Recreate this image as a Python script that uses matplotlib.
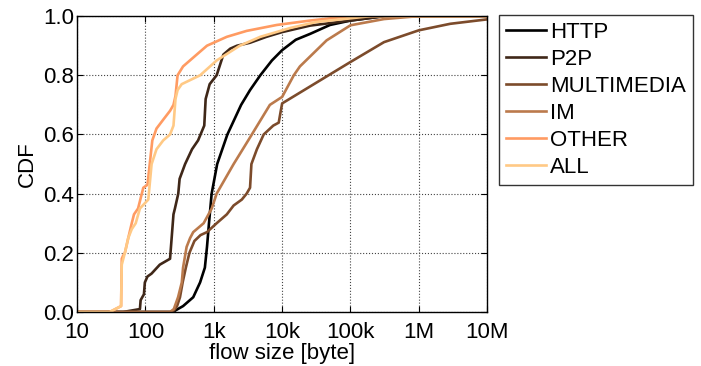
import numpy as np
import matplotlib
matplotlib.use("Agg")
import matplotlib.pyplot as plt
from matplotlib.ticker import FixedLocator, LogLocator, NullFormatter

plt.rcParams['font.family'] = ['Liberation Sans', 'DejaVu Sans']

# CDF of flow size per application class (x in bytes, y = CDF)
http_x = [10, 250, 355, 500, 630, 740, 795, 850, 930, 1120, 1580, 2510, 3390,
          4790, 7080, 10000, 15800, 25700, 50000, 100000, 316000, 1e7]
http_y = [0.0, 0.0, 0.02, 0.05, 0.10, 0.15, 0.22, 0.30, 0.40, 0.50, 0.60, 0.70,
          0.75, 0.80, 0.85, 0.885, 0.92, 0.94, 0.97, 0.985, 1.0, 1.0]

p2p_x = [10, 47, 83, 85, 95, 98, 107, 123, 162, 229, 257, 270, 302, 316, 380,
         480, 589, 725, 760, 870, 1100, 1380, 1740, 2190, 3390, 5890, 10000,
         25700, 100000, 316000, 1e7]
p2p_y = [0.0, 0.0, 0.01, 0.04, 0.06, 0.10, 0.12, 0.13, 0.16, 0.18, 0.33, 0.35,
         0.40, 0.45, 0.50, 0.55, 0.58, 0.63, 0.72, 0.77, 0.80, 0.87, 0.89, 0.90,
         0.91, 0.93, 0.946, 0.968, 0.985, 1.0, 1.0]

mm_x = [10, 229, 260, 290, 320, 350, 390, 440, 520, 640, 795, 1100, 1550, 1950,
        2570, 3020, 3390, 3550, 4270, 5370, 7410, 8910, 9550, 10000, 100000,
        309000, 1000000, 2880000, 1e7]
mm_y = [0.0, 0.0, 0.005, 0.02, 0.05, 0.10, 0.15, 0.20, 0.24, 0.26, 0.27, 0.30,
        0.33, 0.36, 0.38, 0.40, 0.42, 0.50, 0.55, 0.60, 0.63, 0.64, 0.68, 0.705,
        0.845, 0.912, 0.952, 0.974, 0.989]

im_x = [10, 229, 260, 300, 340, 355, 400, 450, 500, 710, 933, 1100, 1950, 3390,
        6610, 10000, 14800, 18200, 44700, 100000, 309000, 1000000, 1e7]
im_y = [0.0, 0.0, 0.01, 0.05, 0.10, 0.15, 0.22, 0.25, 0.27, 0.30, 0.35, 0.40,
        0.50, 0.59, 0.70, 0.727, 0.80, 0.83, 0.918, 0.969, 0.99, 1.0, 1.0]

other_x = [10, 30, 44, 45, 47, 50, 56, 63, 68, 78, 93, 107, 126, 145, 182, 229,
           257, 275, 295, 355, 562, 794, 1550, 3020, 8320, 25700, 100000, 1e7]
other_y = [0.0, 0.0, 0.02, 0.18, 0.19, 0.20, 0.25, 0.30, 0.33, 0.35, 0.42,
           0.43, 0.58, 0.62, 0.65, 0.68, 0.70, 0.73, 0.80, 0.83, 0.87, 0.90,
           0.93, 0.95, 0.97, 0.985, 1.0, 1.0]

all_x = [10, 30, 44, 45, 50, 56, 63, 72, 83, 110, 123, 145, 182, 229, 257, 275,
         295, 339, 631, 1100, 2400, 4790, 13200, 31600, 200000, 1e7]
all_y = [0.0, 0.0, 0.02, 0.16, 0.20, 0.25, 0.28, 0.30, 0.35, 0.38, 0.50, 0.55,
         0.58, 0.60, 0.63, 0.72, 0.75, 0.77, 0.80, 0.85, 0.90, 0.93, 0.96, 0.98,
         1.0, 1.0]

labels = ['HTTP', 'P2P', 'MULTIMEDIA', 'IM', 'OTHER', 'ALL']
colors = ['#000000', '#3f2718', '#7c4b2b', '#bb7a4c', '#ff9b62', '#ffc985']
series = [(http_x, http_y), (p2p_x, p2p_y), (mm_x, mm_y), (im_x, im_y),
          (other_x, other_y), (all_x, all_y)]

xticks = [10, 100, 1e3, 1e4, 1e5, 1e6, 1e7]
xticklabels = ['10', '100', '1k', '10k', '100k', '1M', '10M']
yticks = [0.0, 0.2, 0.4, 0.6, 0.8, 1.0]

fs = 16

fig = plt.figure(figsize=(7.01, 3.66), dpi=100)
ax = fig.add_axes([0.110, 0.1475, 0.585, 0.8085])

for (x, y), lab, c in zip(series, labels, colors):
    ax.plot(x, y, color=c, lw=1.9, label=lab)

ax.set_xscale('log')
ax.set_xlim(10, 1e7)
ax.set_ylim(0, 1)
ax.xaxis.set_major_locator(FixedLocator(xticks))
ax.set_xticklabels(xticklabels)
ax.xaxis.set_minor_locator(LogLocator(base=10, subs=np.arange(2, 10)))
ax.xaxis.set_minor_formatter(NullFormatter())
ax.set_yticks(yticks)
ax.set_yticklabels(['%.1f' % v for v in yticks])
ax.tick_params(which='both', direction='in', top=True, right=True, labelsize=fs)
ax.tick_params(which='major', length=4)
ax.tick_params(which='minor', length=2)
ax.tick_params(axis='y', pad=2)
ax.tick_params(axis='x', pad=7)
ax.grid(True, which='major', ls=':', color='#444444', lw=0.8)
for s in ax.spines.values():
    s.set_linewidth(1.0)

ax.set_xlabel('flow size [byte]', fontsize=fs, labelpad=0)
ax.set_ylabel('CDF', fontsize=fs, labelpad=4)

leg = fig.legend(loc='upper left', bbox_to_anchor=(0.712, 0.958), fontsize=fs,
                 frameon=True, fancybox=False, edgecolor='black',
                 handlelength=1.8, handletextpad=0.2, labelspacing=0.27,
                 borderpad=0.3, borderaxespad=0)
leg.get_frame().set_linewidth(1.0)

fig.savefig('out.png', dpi=100)
